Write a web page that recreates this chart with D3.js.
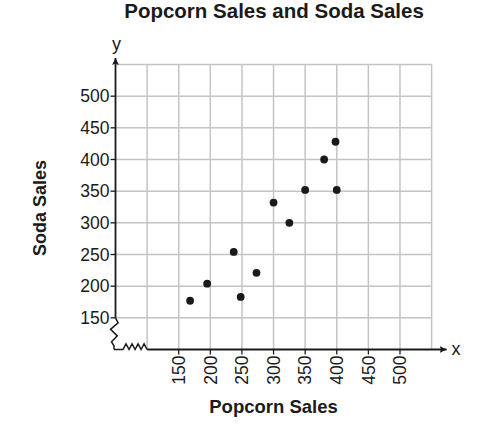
<!DOCTYPE html>
<html>
<head>
<meta charset="utf-8">
<script src="https://cdn.jsdelivr.net/npm/d3@7"></script>
<style>
  body { margin: 0; background: #fff; }
  svg { font-family: "Liberation Sans", Arial, sans-serif; }
</style>
</head>
<body>
<div id="chart"></div>
<script>
// data
const popcorn = [168, 195, 237, 248, 273, 300, 325, 350, 380, 398, 400];
const soda    = [177, 204, 254, 183, 221, 332, 300, 352, 400, 428, 352];
const xTicks = [150, 200, 250, 300, 350, 400, 450, 500];
const yTicks = [150, 200, 250, 300, 350, 400, 450, 500];
const xGrid = [100, 150, 200, 250, 300, 350, 400, 450, 500, 550];
const yGrid = [150, 200, 250, 300, 350, 400, 450, 500, 550];

const width = 480, height = 433;
const ink = "#1a1a1a";

const svg = d3.select("#chart").append("svg")
    .attr("width", width)
    .attr("height", height);

const x = d3.scaleLinear().domain([50, 550]).range([115.5, 431.6]);
const y = d3.scaleLinear().domain([100, 550]).range([349.5, 64.5]);

// grid
svg.append("g").selectAll("line").data(xGrid).join("line")
    .attr("x1", d => x(d)).attr("x2", d => x(d))
    .attr("y1", y(550)).attr("y2", y(100))
    .attr("stroke", "#c4c4c4").attr("stroke-width", 1.5);

svg.append("g").selectAll("line").data(yGrid).join("line")
    .attr("x1", x(50)).attr("x2", x(550))
    .attr("y1", d => y(d)).attr("y2", d => y(d))
    .attr("stroke", "#c4c4c4").attr("stroke-width", 1.5);

// arrow heads
const defs = svg.append("defs");
defs.append("marker")
    .attr("id", "arrow")
    .attr("viewBox", "0 0 10 10")
    .attr("refX", 10).attr("refY", 5)
    .attr("markerWidth", 7).attr("markerHeight", 7)
    .attr("markerUnits", "userSpaceOnUse")
    .attr("orient", "auto")
    .append("path")
    .attr("d", "M0,0 L10,5 L0,10 L2,5 Z")
    .attr("fill", ink);

// axis breaks (zigzags) between the axis origin and first gridline
const x0 = x(50), y0 = y(100), y150 = y(150);
const yBreak = [[x0, y150], [x0 + 2.6, y150 + 5], [x0 - 5, y150 + 11.5], [x0 + 1.8, y150 + 18],
    [x0 - 4, y150 + 24], [x0 - 1.5, y150 + 28], [x0 - 1.5, y0]];
const xs = x0 + 7.5, xe = x(100);
const xBreak = [[x0 - 1.5, y0], [xs, y0]];
const nTeeth = 4;
const step = (xe - xs) / nTeeth;
for (let i = 0; i < nTeeth; i++) {
    xBreak.push([xs + step * i + step / 2, y0 - 5.6]);
    xBreak.push([xs + step * (i + 1), y0]);
}

const line = d3.line();

// y axis: from the break up to the arrow
svg.append("line")
    .attr("x1", x0).attr("x2", x0)
    .attr("y1", y150).attr("y2", y(550) - 6.5)
    .attr("stroke", ink).attr("stroke-width", 1.8)
    .attr("marker-end", "url(#arrow)");

svg.append("path")
    .attr("d", line(yBreak))
    .attr("fill", "none").attr("stroke", ink).attr("stroke-width", 1.5)
    .attr("stroke-linejoin", "miter");

svg.append("path")
    .attr("d", line(xBreak))
    .attr("fill", "none").attr("stroke", ink).attr("stroke-width", 1.5)
    .attr("stroke-linejoin", "miter");

// x axis
svg.append("line")
    .attr("x1", xe).attr("x2", x(550) + 15)
    .attr("y1", y0).attr("y2", y0)
    .attr("stroke", ink).attr("stroke-width", 1.8)
    .attr("marker-end", "url(#arrow)");

// y ticks
const yt = svg.append("g").selectAll("g").data(yTicks).join("g")
    .attr("transform", d => `translate(${x0},${y(d)})`);
yt.append("line").attr("x1", -5).attr("x2", 0)
    .attr("stroke", ink).attr("stroke-width", 1.3);
yt.append("text")
    .attr("x", -6).attr("dy", "0.36em")
    .attr("text-anchor", "end")
    .attr("font-size", 17.5)
    .attr("fill", ink)
    .text(d => d);

// x ticks (rotated labels)
const xt = svg.append("g").selectAll("g").data(xTicks).join("g")
    .attr("transform", d => `translate(${x(d)},${y0})`);
xt.append("line").attr("y1", 0).attr("y2", 5)
    .attr("stroke", ink).attr("stroke-width", 1.3);
xt.append("text")
    .attr("transform", "translate(0,6) rotate(-90)")
    .attr("dy", "0.36em")
    .attr("text-anchor", "end")
    .attr("font-size", 17.5)
    .attr("fill", ink)
    .text(d => d);

// points
svg.append("g").selectAll("circle").data(popcorn).join("circle")
    .attr("cx", d => x(d))
    .attr("cy", (d, i) => y(soda[i]))
    .attr("r", 3.9)
    .attr("fill", ink);

// axis letters
svg.append("text")
    .attr("x", x0 + 1).attr("y", 50)
    .attr("text-anchor", "middle")
    .attr("font-size", 18).attr("fill", ink)
    .text("y");

svg.append("text")
    .attr("x", x(550) + 20).attr("y", y0).attr("dy", "0.32em")
    .attr("font-size", 18).attr("fill", ink)
    .text("x");

// titles
svg.append("text")
    .attr("x", (x(50) + x(550)) / 2 + 0.5).attr("y", 18)
    .attr("text-anchor", "middle")
    .attr("font-size", 20.5).attr("font-weight", "bold").attr("fill", ink)
    .text("Popcorn Sales and Soda Sales");

svg.append("text")
    .attr("x", (x(50) + x(550)) / 2).attr("y", 413)
    .attr("text-anchor", "middle")
    .attr("font-size", 18.5).attr("font-weight", "bold").attr("fill", ink)
    .text("Popcorn Sales");

svg.append("text")
    .attr("transform", `translate(46,${(y(100) + y(550)) / 2 + 1}) rotate(-90)`)
    .attr("text-anchor", "middle")
    .attr("font-size", 18).attr("font-weight", "bold").attr("fill", ink)
    .text("Soda Sales");
</script>
</body>
</html>
